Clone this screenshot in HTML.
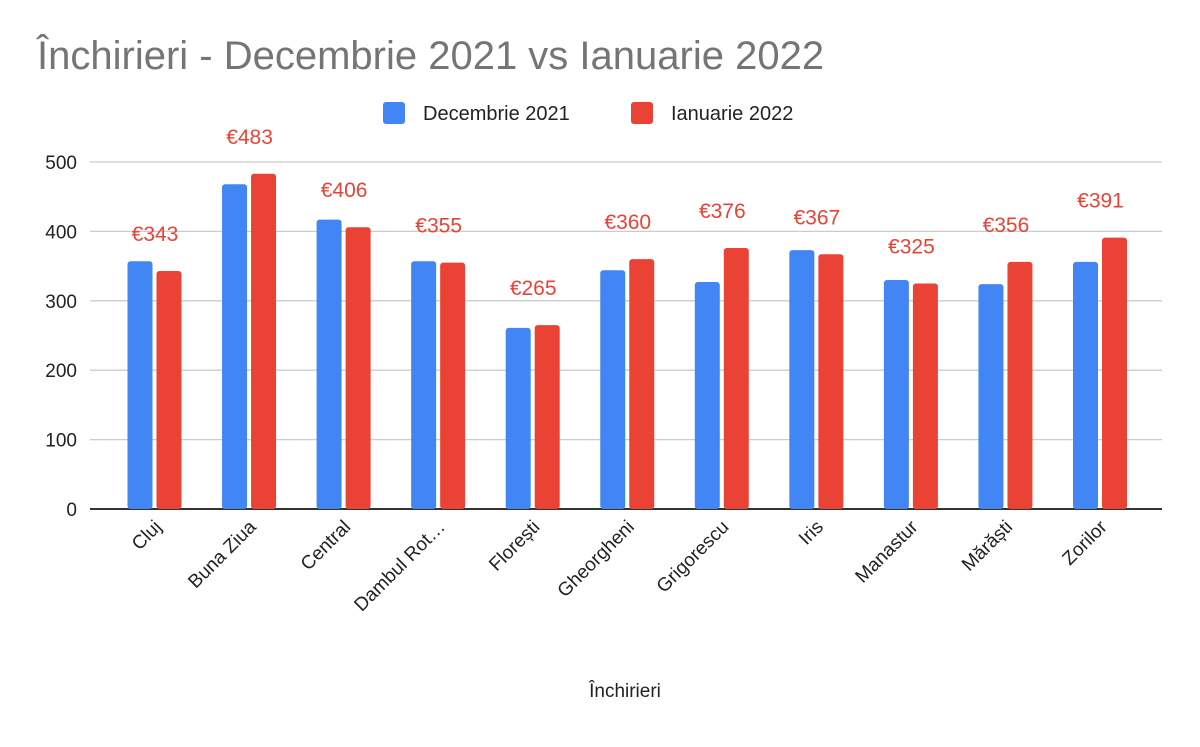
<!DOCTYPE html>
<html><head><meta charset="utf-8"><style>
body{margin:0;background:#fff;font-family:"Liberation Sans",sans-serif}
svg text{font-family:"Liberation Sans",sans-serif}
</style></head><body>
<svg width="1200" height="742" xmlns="http://www.w3.org/2000/svg">
<text x="37" y="69" font-size="40" fill="#757575">Închirieri - Decembrie 2021 vs Ianuarie 2022</text>
<g>
<rect x="383" y="102" width="22" height="22" rx="3" fill="#4285f4"/>
<text x="423" y="120" font-size="20" fill="#222">Decembrie 2021</text>
<rect x="631" y="102" width="22" height="22" rx="3" fill="#ea4335"/>
<text x="671" y="120" font-size="20" fill="#222">Ianuarie 2022</text>
</g>
<g id="grid"></g><g id="bars"></g><g id="labels"></g>
<text x="625" y="697" font-size="19" fill="#222" text-anchor="middle">Închirieri</text>
<script>
const categories=["Cluj","Buna Ziua","Central","Dambul Rot…","Florești","Gheorgheni","Grigorescu","Iris","Manastur","Mărăști","Zorilor"];
const dec2021=[357,468,417,357,261,344,327,373,330,324,356];
const ian2022=[343,483,406,355,265,360,376,367,325,356,391];
const ticks=[0,100,200,300,400,500];
const NS="http://www.w3.org/2000/svg";
const y0=509,yTop=162,yMax=500;
const y=v=>y0-(v/yMax)*(y0-yTop);
const xc=i=>154.5+i*94.55;
const bw=25,gap=4;
function mk(t,a,p){const e=document.createElementNS(NS,t);for(const k in a)e.setAttribute(k,a[k]);p.appendChild(e);return e;}
const grid=document.getElementById('grid'),bars=document.getElementById('bars'),labels=document.getElementById('labels');
ticks.forEach(t=>{
 const l=mk('line',{x1:90,x2:1162,y1:y(t),y2:y(t),stroke:t===0?'#333':'#ccc','stroke-width':t===0?2:1.3},grid);
 
 
 const tx=mk('text',{x:77,y:y(t)+7,'font-size':19,fill:'#222','text-anchor':'end'},grid);
 tx.textContent=t;
 
 
});
categories.forEach((c,i)=>{
 const b1=mk('rect',{x:xc(i)-gap/2-bw,y:y(dec2021[i]),width:bw,height:y0-y(dec2021[i]),rx:3,fill:'#4285f4'},bars);
 
 
 const b2=mk('rect',{x:xc(i)+gap/2,y:y(ian2022[i]),width:bw,height:y0-y(ian2022[i]),rx:3,fill:'#ea4335'},bars);
 
 
 const v=mk('text',{x:xc(i)+gap/2+bw/2-14,y:y(ian2022[i])-30,'font-size':21,fill:'#ea4335','text-anchor':'middle'},labels);
 v.textContent='€'+ian2022[i];
 
 
 const cx=xc(i)+8,cy=528;
 const t=mk('text',{x:cx,y:cy,'font-size':19,fill:'#222','text-anchor':'end',transform:`rotate(-45 ${cx} ${cy})`},labels);
 t.textContent=c;
 
 
});
</script>
</svg>
</body></html>
